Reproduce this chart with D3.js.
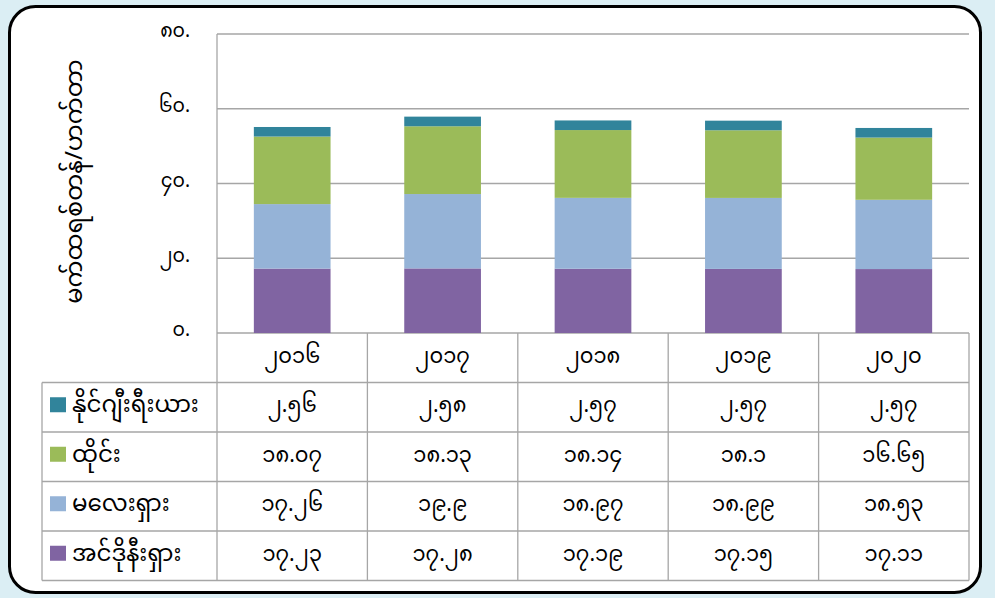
<!DOCTYPE html>
<html><head><meta charset="utf-8">
<script src="https://cdn.jsdelivr.net/npm/d3@7"></script>
<style>
html,body{margin:0;padding:0;background:#dbeef4;}
svg{display:block;}
text{font-family:"Noto Sans Myanmar","Padauk","Myanmar Text","Noto Sans",sans-serif;fill:#000;}
</style></head>
<body>
<svg id="c" width="995" height="598"></svg>
<script>
const years = ["၂၀၁၆","၂၀၁၇","၂၀၁၈","၂၀၁၉","၂၀၂၀"];
const seriesNames = ["နိုင်ဂျီးရီးယား","ထိုင်း","မလေးရှား","အင်ဒိုနီးရှား"];
const nigeria   = [2.56, 2.58, 2.57, 2.57, 2.57];
const thailand  = [18.07, 18.13, 18.14, 18.1, 16.65];
const malaysia  = [17.26, 19.9, 18.97, 18.99, 18.53];
const indonesia = [17.23, 17.28, 17.19, 17.15, 17.11];
const tableLabels = [
  ["၂.၅၆","၂.၅၈","၂.၅၇","၂.၅၇","၂.၅၇"],
  ["၁၈.၀၇","၁၈.၁၃","၁၈.၁၄","၁၈.၁","၁၆.၆၅"],
  ["၁၇.၂၆","၁၉.၉","၁၈.၉၇","၁၈.၉၉","၁၈.၅၃"],
  ["၁၇.၂၃","၁၇.၂၈","၁၇.၁၉","၁၇.၁၅","၁၇.၁၁"]
];
const yTicks = [0,20,40,60,80];
const yTickLabels = ["၀.","၂၀.","၄၀.","၆၀.","၈၀."];
const yTitle = "မက်ထရစ်တန်/ဟက်တာ";
const colors = ["#31849b","#9bbb59","#95b3d7","#8064a2"];

const svg = d3.select("#c");
// panel
svg.append("rect").attr("x",9.5).attr("y",6.5).attr("width",971).attr("height",586)
  .attr("rx",26).attr("ry",26).attr("fill","#fff").attr("stroke","#000").attr("stroke-width",3);

const L=217, R=969, T=34, B=333;
const x = d3.scaleBand().domain(years).range([L,R]).paddingInner(0.49).paddingOuter(0.245);
const xc = d3.scaleBand().domain(years).range([L,R]);
const y = d3.scaleLinear().domain([0,80]).range([B,T]);

const grid="#a6a6a6";
// gridlines
svg.append("g").selectAll("line").data(yTicks).join("line")
  .attr("x1",L).attr("x2",R).attr("y1",d=>y(d)).attr("y2",d=>y(d))
  .attr("stroke",grid).attr("stroke-width",1.3);
// y axis ticks labels
const yAxis = d3.axisLeft(y).tickValues(yTicks).tickSize(0).tickPadding(27)
  .tickFormat((d,i)=>yTickLabels[i]);
const ga = svg.append("g").attr("transform",`translate(${L},0)`).call(yAxis);
ga.select(".domain").remove();
ga.selectAll("text").attr("font-size",19).attr("font-family",null).attr("dy","0.15em");

// stack
const rows = years.map((yr,i)=>({year:yr, indonesia:indonesia[i], malaysia:malaysia[i], thailand:thailand[i], nigeria:nigeria[i]}));
const keys = ["indonesia","malaysia","thailand","nigeria"];
const keyColor = {indonesia:colors[3], malaysia:colors[2], thailand:colors[1], nigeria:colors[0]};
const stack = d3.stack().keys(keys)(rows);
svg.append("g").selectAll("g").data(stack).join("g").attr("fill",d=>keyColor[d.key])
  .selectAll("rect").data(d=>d).join("rect")
  .attr("x",d=>x(d.data.year)).attr("width",x.bandwidth())
  .attr("y",d=>y(d[1])).attr("height",d=>y(d[0])-y(d[1]));

// table
const rowH = 49.5;
const tb = svg.append("g");
const tableLeft = 42;
const tableBottom = B + rowH*5;
const vx = [L].concat(years.map(yv=>xc(yv)+xc.bandwidth()));
tb.selectAll("line.v").data(vx).join("line").attr("class","v")
  .attr("x1",d=>d).attr("x2",d=>d).attr("y1",(d,i)=>i===0?T:B).attr("y2",tableBottom)
  .attr("stroke",grid).attr("stroke-width",1.3);
tb.append("line").attr("x1",tableLeft).attr("x2",tableLeft).attr("y1",B+rowH).attr("y2",tableBottom)
  .attr("stroke",grid).attr("stroke-width",1.3);
const hy = d3.range(1,6).map(i=>B+rowH*i);
tb.selectAll("line.h").data(hy).join("line").attr("class","h")
  .attr("x1",tableLeft).attr("x2",R).attr("y1",d=>d).attr("y2",d=>d)
  .attr("stroke",grid).attr("stroke-width",1.3);
// header
tb.selectAll("text.yr").data(years).join("text").attr("class","yr")
  .attr("x",d=>xc(d)+xc.bandwidth()/2).attr("y",B+rowH/2).attr("text-anchor","middle")
  .attr("dominant-baseline","central").attr("font-size",21).text(d=>d);
// rows
seriesNames.forEach((nm,r)=>{
  const cy = B+rowH*(r+1)+rowH/2;
  tb.append("rect").attr("x",50).attr("y",cy-10).attr("width",16).attr("height",15).attr("fill",colors[r]);
  tb.append("text").attr("x",72).attr("y",cy).attr("dominant-baseline","central").attr("font-size",23).text(nm);
  tb.selectAll(null).data(years).join("text")
    .attr("x",d=>xc(d)+xc.bandwidth()/2).attr("y",cy).attr("text-anchor","middle")
    .attr("dominant-baseline","central").attr("font-size",21).text((d,i)=>tableLabels[r][i]);
});
// y title
svg.append("text").attr("transform",`translate(76,${(T+B)/2 - 2}) rotate(-90)`)
  .attr("text-anchor","middle").attr("dominant-baseline","central").attr("font-size",24).text(yTitle);
</script>
</body></html>
